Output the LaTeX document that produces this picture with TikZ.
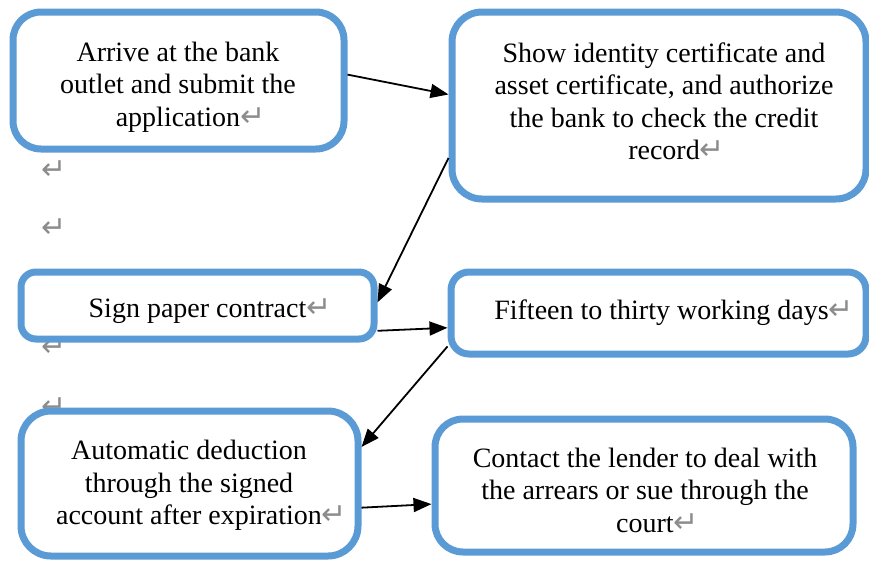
\documentclass[tikz,border=0pt]{standalone}
\usepackage{fontspec}
\setmainfont{Liberation Serif}
\newfontfamily\symf{DejaVu Sans}
\usetikzlibrary{arrows.meta}
\definecolor{wordblue}{HTML}{5B9BD5}
\newcommand\rsym{{\symf\color{black!45}\fontsize{30}{20}\selectfont ↵}}
\newcommand\rmark{\rlap{\rsym}}
\begin{document}
\begin{tikzpicture}[x=1pt,y=-1pt,
  flowbox/.style={draw=wordblue, line width=7pt, fill=white, inner sep=0pt},
  txt/.style={align=center, font=\fontsize{28}{32.5}\selectfont, inner sep=0pt},
  arr/.style={line width=1.8pt, -{Triangle[length=18pt,width=14pt]}},
  stray/.style={inner sep=0pt}]
\useasboundingbox (0,0) rectangle (869,563);
% stray paragraph marks
\node[stray] (s1) at (54,170) {\rsym};
\node[stray] (s2) at (54,228) {\rsym};
\node[stray] (s3) at (54,347) {\rsym};
\node[stray] (s4) at (54,407) {\rsym};
% boxes
\node[flowbox, rounded corners=28pt, minimum width=331pt, minimum height=137pt] (b1) at (178.5,80.5) {};
\node[flowbox, rounded corners=30pt, minimum width=414pt, minimum height=187pt] (b2) at (659,105.5) {};
\node[flowbox, rounded corners=15pt, minimum width=353pt, minimum height=67pt] (b3) at (197.5,305.5) {};
\node[flowbox, rounded corners=18pt, minimum width=415pt, minimum height=82pt] (b4) at (658.5,313) {};
\node[flowbox, rounded corners=30pt, minimum width=337pt, minimum height=145pt] (b5) at (189.5,483.5) {};
\node[flowbox, rounded corners=28pt, minimum width=418pt, minimum height=133pt] (b6) at (644,485.5) {};
% texts
\node[txt] (t1) at (178,87) {Arrive at the bank\\outlet and submit the\\application\rmark};
\node[txt] (t2) at (664,101.5) {Show identity certificate and\\asset certificate, and authorize\\the bank to check the credit\\record\rmark};
\node[txt] (t3) at (197.5,311) {Sign paper contract\rmark};
\node[txt] (t4) at (661.5,313) {Fifteen to thirty working days\rmark};
\node[txt] (t5) at (189,485.5) {Automatic deduction\\through the signed\\account after expiration\rmark};
\node[txt] (t6) at (645,490) {Contact the lender to deal with\\the arrears or sue through the\\court\rmark};
% connectors
\draw[arr] (b1.2) -- (b2.177.7);
\draw[arr] (b2.194) -- (b3.1);
\draw[arr] (b3.-8) -- (b4.184);
\draw[arr] (b4.189) -- (b5.12);
\draw[arr] (b5.-8) -- (b6.185);
\end{tikzpicture}
\end{document}
